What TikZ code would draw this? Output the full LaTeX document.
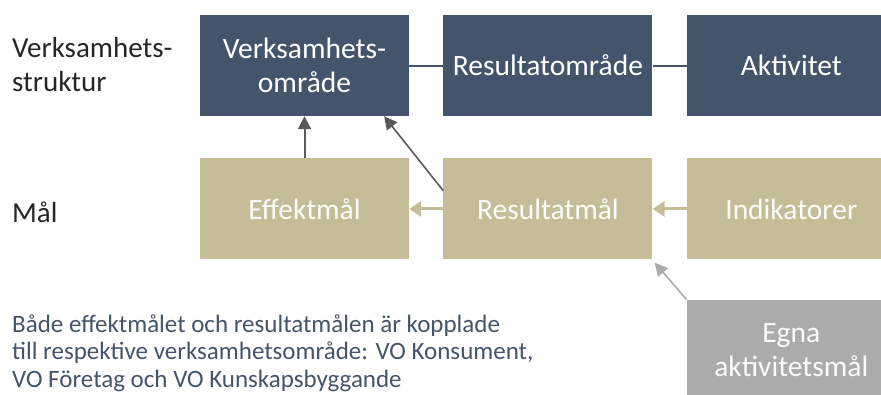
\documentclass[tikz,border=0pt]{standalone}
\usepackage{fontspec}
\setmainfont{Carlito}
\usepackage{tikz}
\usetikzlibrary{arrows.meta, positioning, calc}
\usepackage{xcolor}
\definecolor{structnavy}{HTML}{44546A}
\definecolor{goaltan}{HTML}{C4BD97}
\definecolor{owngray}{HTML}{ABABAB}
\definecolor{arrowdark}{HTML}{595959}
\definecolor{labeldark}{HTML}{262626}
\tikzset{
  structbox/.style={rectangle, fill=structnavy, text=white, minimum width=209pt,
    minimum height=101pt, inner sep=0pt, align=center, font=\fontsize{29.5}{34}\selectfont},
  goalbox/.style={structbox, fill=goaltan, text=white!95!goaltan},
  ownbox/.style={structbox, fill=owngray, text=white!95!owngray},
  rowlabel/.style={anchor=west, align=left, inner sep=0pt, text=labeldark,
    font=\fontsize{29}{34}\selectfont},
  darkarrow/.style={draw=arrowdark, line width=2pt, -{Triangle[width=13pt,length=13pt]}},
  tanarrow/.style={draw=goaltan, line width=3pt, -{Triangle[width=15pt,length=12pt]}},
  grayarrow/.style={draw=owngray, line width=1.6pt, -{Triangle[width=13pt,length=13pt]}}
}
\begin{document}
\begin{tikzpicture}[x=1pt, y=1pt, node distance=34pt]
\clip (0,0) rectangle (881,-394);

\node[structbox] (vo) at (304.5,-65.5) {Verksamhets-\\område};
\node[structbox, right=of vo] (resomr) {Resultatområde};
\node[structbox, right=of resomr] (akt) {Aktivitet};

\node[goalbox, below=42pt of vo] (eff) {Effektmål};
\node[goalbox, right=of eff] (resmal) {Resultatmål};
\node[goalbox, right=of resmal] (ind) {Indikatorer};
\node[ownbox, below=40pt of ind] (egna) {Egna\\aktivitetsmål};

\node[rowlabel] (structlabel) at (12,-65) {Verksamhets-\\struktur};
\node[rowlabel] (goallabel) at (12,-212) {Mål};

\node[anchor=base west, align=left, inner sep=0pt, text=structnavy,
      font=\fontsize{25}{27.5}\selectfont] (note) at (12,-387) {
Både effektmålet och resultatmålen är kopplade\\
till respektive verksamhetsområde: VO Konsument,\\
VO Företag och VO Kunskapsbyggande};

\draw[structnavy, line width=2pt] (vo) -- (resomr);
\draw[structnavy, line width=2pt] (resomr) -- (akt);
\draw[darkarrow] (eff) -- (vo);
\draw[darkarrow, line width=1.6pt] ($(resmal.north west)!0.32!(resmal.south west)$)
  -- ($(vo.south west)!0.88!(vo.south east)$);
\draw[tanarrow] (resmal) -- (eff);
\draw[tanarrow] (ind) -- (resmal);
\draw[grayarrow] (egna.north west) -- ($(resmal.south east)+(2,-3)$);
\end{tikzpicture}
\end{document}
